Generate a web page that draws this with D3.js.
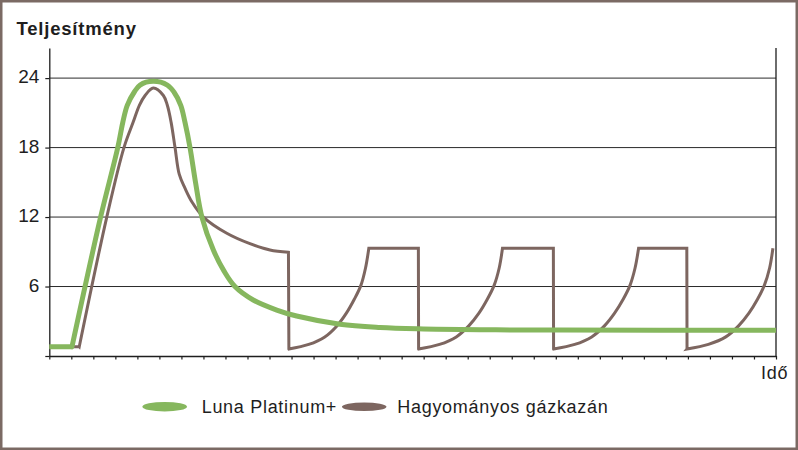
<!DOCTYPE html>
<html><head><meta charset="utf-8">
<script src="https://cdn.jsdelivr.net/npm/d3@7"></script>
<style>html,body{margin:0;padding:0;background:#fff;} svg{display:block;}</style>
</head><body><svg id="c" width="798" height="450"></svg>
<script>
// ---- data ----
const yTickValues = [0, 6, 12, 18, 24];
const xTickValues = d3.range(0, 34);
const yTitle = "Teljesítmény";
const xTitle = "Idő";
const seriesNames = ["Luna Platinum+", "Hagyományos gázkazán"];

const lunaTime  = [0.00, 1.03, 2.33, 3.11, 3.34, 3.54, 3.86, 4.12, 4.72, 5.36, 5.66, 5.97, 6.16, 6.39, 6.64, 6.93, 7.45, 7.93, 8.43, 9.26, 10.33, 11.23, 13.20, 15.02, 16.74, 19.56, 23.19, 33.00];
const lunaValue = [0.8, 0.8, 12, 18, 20.2, 21.65, 22.8, 23.4, 23.72, 23.4, 22.8, 21.65, 20.2, 18, 15, 12, 9.15, 7.35, 6.0, 4.84, 3.97, 3.45, 2.75, 2.47, 2.35, 2.27, 2.24, 2.22];

const gasTime  = [0.00, 1.36, 2.61, 3.39, 3.81, 4.09, 4.35, 4.72, 5.18, 5.36, 5.53, 5.71, 5.90, 6.16, 6.48, 7.00, 8.06, 9.11, 10.02, 10.86,
                  10.88, 11.78, 12.51, 13.06, 13.49, 13.85, 14.15, 14.36, 14.51, 16.76,
                  16.77, 17.72, 18.48, 19.05, 19.51, 19.89, 20.20, 20.43, 20.58, 22.89,
                  22.90, 23.86, 24.63, 25.21, 25.67, 26.06, 26.37, 26.60, 26.76, 28.95,
                  28.96, 29.93, 30.72, 31.30, 31.77, 32.16, 32.47, 32.71, 32.86];
const gasValue = [0.8, 0.8, 12, 18, 20.2, 21.65, 22.5, 23.14, 22.5, 21.65, 20.2, 18, 15.7, 14.5, 13.3, 12, 10.6, 9.7, 9.15, 8.95,
                  0.6, 1.0, 1.65, 2.6, 3.7, 4.9, 6.1, 7.6, 9.3, 9.3,
                  0.6, 1.0, 1.65, 2.6, 3.7, 4.9, 6.1, 7.6, 9.3, 9.3,
                  0.6, 1.0, 1.65, 2.6, 3.7, 4.9, 6.1, 7.6, 9.3, 9.3,
                  0.6, 1.0, 1.65, 2.6, 3.7, 4.9, 6.1, 7.6, 9.3];

// ---- styles ----
const GREEN = "#86b75e", BROWN = "#7d6660", FRAME = "#7b6a64", INK = "#1e1e1e";
const FONT = "'Liberation Sans', Arial, sans-serif";

const svg = d3.select("#c");
svg.append("rect").attr("x", 1.25).attr("y", 1.25).attr("width", 795.5).attr("height", 447.5)
  .attr("fill", "#fff").attr("stroke", FRAME).attr("stroke-width", 2.5);

const x = d3.scaleLinear().domain([0, 33]).range([49.3, 776]);
const y = d3.scaleLinear().domain([0, 26.6]).range([356, 48]);

// grid
svg.append("g").selectAll("line").data(yTickValues.filter(d => d > 0)).join("line")
  .attr("x1", x(0)).attr("x2", x(33)).attr("y1", d => y(d)).attr("y2", d => y(d))
  .attr("stroke", "#2a2a2a").attr("stroke-width", 1);

// right frame line
svg.append("line").attr("x1", x(33)).attr("x2", x(33)).attr("y1", y(0)).attr("y2", y(26.6))
  .attr("stroke", INK).attr("stroke-width", 1.3);

// axes
const gx = svg.append("g").attr("transform", `translate(0,${y(0)})`)
  .call(d3.axisBottom(x).tickValues(xTickValues).tickSize(3.5).tickSizeOuter(0).tickFormat(""));
const gy = svg.append("g").attr("transform", `translate(${x(0)},0)`)
  .call(d3.axisLeft(y).tickValues(yTickValues).tickSize(4).tickSizeOuter(0).tickFormat(d => d === 0 ? "" : d));
[gx, gy].forEach(g => {
  g.selectAll("path.domain").attr("stroke", INK).attr("stroke-width", 1.3);
  g.selectAll(".tick line").attr("stroke", INK).attr("stroke-width", 1.2);
});
gy.selectAll(".tick text").attr("x", -10).attr("dy", "0.25em")
  .attr("font-family", FONT).attr("font-size", 19).attr("fill", INK);

// path builder: flat runs and vertical drops are straight, everything else smooth
function buildPath(pts) {
  const smooth = d3.line().x(d => x(d[0])).y(d => y(d[1])).curve(d3.curveCatmullRom.alpha(0.5));
  const isStraight = (a, b) => Math.abs(a[1] - b[1]) < 1e-9 || (b[0] - a[0]) < 0.03;
  let d = `M${x(pts[0][0])},${y(pts[0][1])}`;
  let i = 0;
  while (i < pts.length - 1) {
    if (isStraight(pts[i], pts[i + 1])) {
      d += `L${x(pts[i + 1][0])},${y(pts[i + 1][1])}`;
      i++;
    } else {
      let j = i + 1;
      while (j < pts.length - 1 && !isStraight(pts[j], pts[j + 1])) j++;
      d += smooth(pts.slice(i, j + 1)).replace(/^M/, "L");
      i = j;
    }
  }
  return d;
}

const gasData = gasTime.map((t, i) => [t, gasValue[i]]);
const lunaData = lunaTime.map((t, i) => [t, lunaValue[i]]);
svg.append("path").attr("d", buildPath(gasData)).attr("fill", "none")
  .attr("stroke", BROWN).attr("stroke-width", 3).attr("stroke-linejoin", "miter");
svg.append("path").attr("d", buildPath(lunaData)).attr("fill", "none")
  .attr("stroke", GREEN).attr("stroke-width", 5).attr("stroke-linejoin", "round");

// titles
svg.append("text").attr("x", 16.5).attr("y", 35).text(yTitle)
  .attr("font-family", FONT).attr("font-size", 18.5).attr("font-weight", "bold")
  .attr("letter-spacing", 0.8).attr("fill", INK);
svg.append("text").attr("x", 761).attr("y", 379).text(xTitle)
  .attr("font-family", FONT).attr("font-size", 18).attr("letter-spacing", 0.7).attr("fill", INK);

// legend
const legend = [
  { name: seriesNames[0], color: GREEN, cx: 164.7, tx: 201.7, ry: 4.8 },
  { name: seriesNames[1], color: BROWN, cx: 364.2, tx: 397.3, ry: 4.3 }
];
const lg = svg.append("g");
lg.selectAll("ellipse").data(legend).join("ellipse")
  .attr("cx", d => d.cx).attr("cy", 406.7).attr("rx", 22.3).attr("ry", d => d.ry).attr("fill", d => d.color);
lg.selectAll("text").data(legend).join("text")
  .attr("x", d => d.tx).attr("y", 413.3).text(d => d.name)
  .attr("font-family", FONT).attr("font-size", 18).attr("letter-spacing", 0.7).attr("fill", INK);
</script>
</body></html>
